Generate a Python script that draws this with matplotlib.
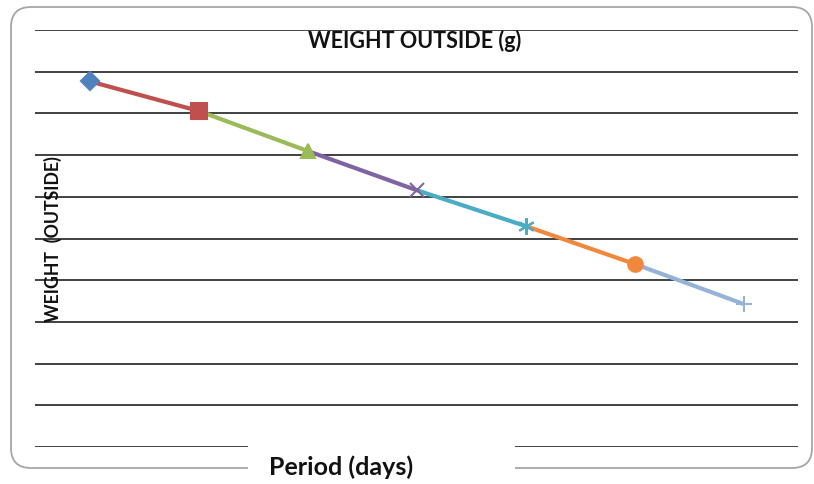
import matplotlib
matplotlib.use("Agg")
import matplotlib.pyplot as plt
from matplotlib.patches import FancyBboxPatch, Rectangle

plt.rcParams['font.family'] = ['Lato', 'DejaVu Sans']

# 数据：每天的外部重量
days = [1, 2, 3, 4, 5, 6, 7]
weights = [8.77, 8.06, 7.10, 6.16, 5.30, 4.39, 3.43]

colors = ['#4F81BD', '#C0504D', '#9BBB59', '#8064A2', '#4BACC6', '#F0883E', '#95B3D7']
markers = ['D', 's', '^', 'x', (6, 2, 0), 'o', '+']
msizes = [9, 11, 10, 10, 12, 10.5, 11]

W, H, DPI = 814, 485, 100
fig = plt.figure(figsize=(W / DPI, H / DPI), dpi=DPI)

def px(x, y):
    # 像素坐标（左上角为原点）转为 figure 坐标
    return x / W, 1 - y / H

# 圆角外框
frame = FancyBboxPatch((0.11 + 0.2, 0.16 + 0.2), 8.01 - 0.4, 4.61 - 0.4,
                       boxstyle="round,pad=0.2", transform=fig.dpi_scale_trans,
                       facecolor='none', edgecolor='#a6a6a6', lw=1.3, zorder=0)
fig.add_artist(frame)

left, top, right, bottom = 35, 31, 798, 448
ax = fig.add_axes([left / W, 1 - bottom / H, (right - left) / W, (bottom - top) / H])
ax.set_xlim(0.5, 7.5)
ax.set_ylim(0, 10)
ax.set_yticks(range(0, 11))
ax.set_xticks([])
ax.tick_params(left=False, labelleft=False)
ax.grid(axis='y', color='#333333', lw=1.3)
ax.set_axisbelow(True)
for s in ax.spines.values():
    s.set_visible(False)
ax.patch.set_alpha(0)

# 线段颜色随终点变化
for i in range(1, len(days)):
    ax.plot(days[i - 1:i + 1], weights[i - 1:i + 1], color=colors[i], lw=3,
            solid_capstyle='butt', zorder=2)
for i in range(len(days)):
    ax.plot(days[i], weights[i], marker=markers[i], color=colors[i], ms=msizes[i],
            mew=1.5, ls='none', zorder=3, clip_on=False)

# 标题和坐标轴标题
fig.text(*px(415, 41), 'WEIGHT OUTSIDE (g)', ha='center', va='center',
         fontsize=15.5, fontweight='bold', color='#111111')
fig.text(*px(53, 239), 'WEIGHT  (OUTSIDE)', ha='center', va='center', rotation=90,
         fontsize=12.8, fontweight='bold', color='#111111')

# x 轴标题的白色底框
bx0, by0 = px(248, 482)
bx1, by1 = px(515, 438)
fig.add_artist(Rectangle((bx0, by0), bx1 - bx0, by1 - by0, transform=fig.transFigure,
                         facecolor='white', edgecolor='none', zorder=5))
fig.text(*px(341, 467), 'Period (days)', ha='center', va='center',
         fontsize=18, fontweight='bold', color='#111111', zorder=6)

fig.savefig('out.png', dpi=DPI)
